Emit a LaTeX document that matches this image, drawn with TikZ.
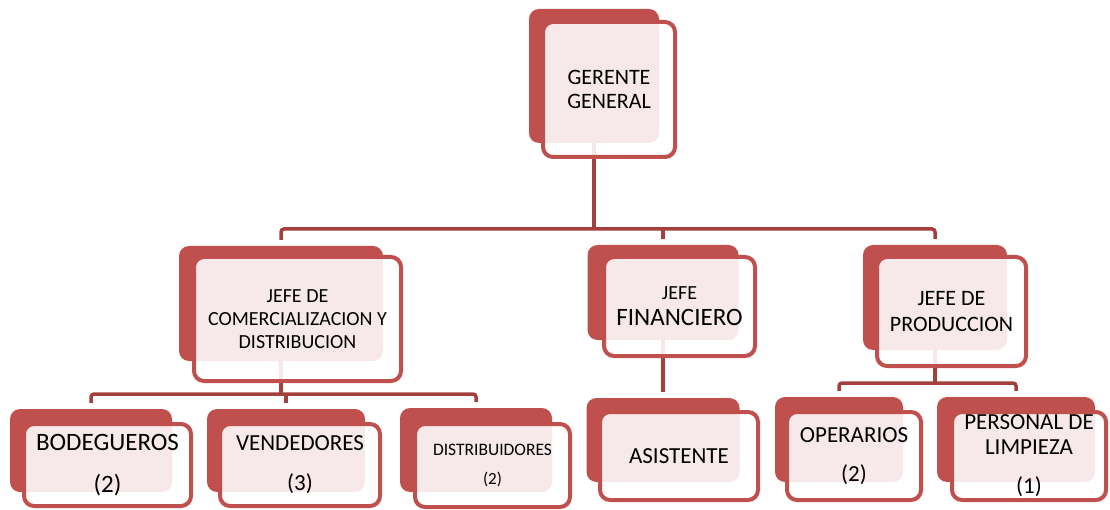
\documentclass[tikz,border=0pt]{standalone}
\usepackage{fontspec}
\setmainfont{Carlito}
\usetikzlibrary{calc}
\usetikzlibrary{backgrounds}

\definecolor{boxred}{RGB}{192,80,77}
\definecolor{linkred}{RGB}{163,64,62}

\begin{document}
\begin{tikzpicture}[x=1pt,y=-1pt,
        back/.style={fill=boxred,rounded corners=10pt,inner sep=0pt},
        front/.style={draw=boxred,line width=4pt,fill=white,fill opacity=.88,text opacity=1,
                rounded corners=10pt,align=center,inner sep=0pt},
        link/.style={draw=linkred,line width=3.5pt,rounded corners=3pt}]
        \useasboundingbox (0,0) rectangle (1110,510);
        \def\gap{6pt}

        % gerente
        \node[back,minimum width=130pt,minimum height=134pt] (gerB) at (594,76) {};
        \node[front,minimum width=132pt,minimum height=135pt,font=\fontsize{22}{24}\selectfont] (ger) at (609,89.5) {GERENTE\\GENERAL};

        % jefes
        \node[back,minimum width=204pt,minimum height=115pt] (comB) at (281,303.5) {};
        \node[front,minimum width=207pt,minimum height=124pt,font=\fontsize{20}{23}\selectfont] (com) at (297.5,319) {JEFE DE\\COMERCIALIZACION Y\\DISTRIBUCION};
        \node[back,minimum width=151pt,minimum height=95pt] (finB) at (663,292.5) {};
        \node[front,minimum width=151pt,minimum height=99pt,font=\fontsize{25}{26}\selectfont] (fin) at (679.5,306.5) {{\fontsize{20}{24}\selectfont JEFE}\\FINANCIERO};
        \node[back,minimum width=144pt,minimum height=105pt] (prodB) at (935,297.5) {};
        \node[front,minimum width=149pt,minimum height=109pt,font=\fontsize{22}{26}\selectfont] (prod) at (951.5,311.5) {JEFE DE\\PRODUCCION};

        % personal
        \node[back,minimum width=162pt,minimum height=83pt] (bodB) at (91,450.5) {};
        \node[front,minimum width=167pt,minimum height=82pt,font=\fontsize{25}{28}\selectfont] (bod) at (107.5,465) {BODEGUEROS\\[14pt](2)};
        \node[back,minimum width=158pt,minimum height=83pt] (venB) at (286,450.5) {};
        \node[front,minimum width=160pt,minimum height=82pt,font=\fontsize{23}{27}\selectfont] (ven) at (300,465) {VENDEDORES\\[13pt](3)};
        \node[back,minimum width=152pt,minimum height=84pt] (disB) at (476,450) {};
        \node[front,minimum width=155pt,minimum height=83pt,font=\fontsize{17.5}{21}\selectfont] (dis) at (492.5,465.5) {DISTRIBUIDORES\\[8pt]{\fontsize{17}{20}\selectfont(2)}};
        \node[back,minimum width=153pt,minimum height=84pt] (asiB) at (663,440) {};
        \node[front,minimum width=158pt,minimum height=88pt,font=\fontsize{23}{27}\selectfont] (asi) at (679,456) {ASISTENTE};
        \node[back,minimum width=128pt,minimum height=85pt] (opeB) at (839,439.5) {};
        \node[front,minimum width=134pt,minimum height=88pt,font=\fontsize{23}{27}\selectfont] (ope) at (854,456) {OPERARIOS\\[12pt](2)};
        \node[back,minimum width=158pt,minimum height=85pt] (perB) at (1016,439.5) {};
        \node[front,minimum width=154pt,minimum height=88pt,font=\fontsize{23}{25}\selectfont] (per) at (1029,456) {PERSONAL DE\\LIMPIEZA\\[14pt](1)};

        % lineas
        \begin{scope}[on background layer]
        \coordinate (bus1) at (0,229);
        \coordinate (bus2) at (0,394);
        \coordinate (bus3) at (0,383);
        \draw[link] (gerB.south) -- (gerB.south |- bus1);
        \draw[link] ([yshift=\gap]comB.north) -- (comB.north |- bus1) -- (prodB.north |- bus1) -- ([yshift=\gap]prodB.north);
        \draw[link] (finB.north |- bus1) -- ([yshift=\gap]finB.north);
        \draw[link] (comB.south) -- (comB.south |- bus2);
        \draw[link] ([yshift=\gap]bodB.north) -- (bodB.north |- bus2) -- (disB.north |- bus2) -- ([yshift=\gap]disB.north);
        \draw[link] (venB.north |- bus2) -- ([yshift=\gap]venB.north);
        \draw[link] (finB.south) -- ([yshift=\gap]asiB.north);
        \draw[link] (prodB.south) -- (prodB.south |- bus3);
        \draw[link] ([yshift=\gap]opeB.north) -- (opeB.north |- bus3) -- (perB.north |- bus3) -- ([yshift=\gap]perB.north);
        \end{scope}
\end{tikzpicture}
\end{document}
